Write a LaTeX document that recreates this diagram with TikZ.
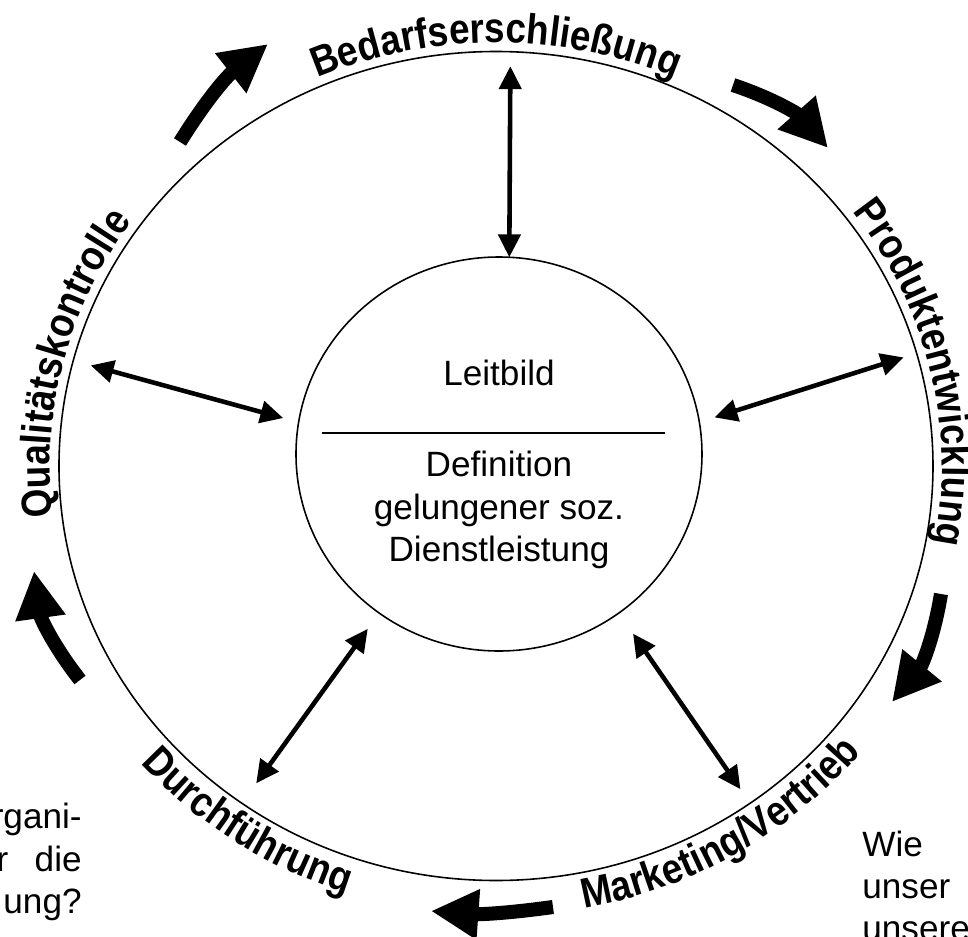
\documentclass[tikz,border=0pt]{standalone}
\usepackage{fontspec}
\setmainfont{Liberation Sans}
\newfontfamily\bogenschrift[FakeStretch=0.875]{Liberation Sans}
\usetikzlibrary{arrows.meta,shapes.geometric,decorations.text}

\tikzset{
	kreis/.style={draw, ellipse, line width=0.9pt, inner sep=0pt, outer sep=0pt},
	schrift/.style={font=\fontsize{20pt}{24pt}\selectfont, inner sep=0pt},
	pfeil/.style={{Triangle[length=13pt,width=12.5pt]}-{Triangle[length=13pt,width=12.5pt]}, line width=2.6pt},
	blockpfeil/.style={-{Triangle[length=27pt,width=27pt]}, line width=8pt},
	bogen/.style={decorate, decoration={text along path, text align=center,
		text={|\bogenschrift\bfseries\fontsize{24pt}{28pt}\selectfont|#1}}}
}

\begin{document}
\begin{tikzpicture}[x=0.2mm, y=0.2mm]
\useasboundingbox (-496,-470) rectangle (472,466);

\node[kreis, minimum width=17.48cm, minimum height=16.58cm] (zyklus) at (0,0) {};
\node[kreis, minimum width=8.12cm, minimum height=7.88cm] (leitbild) at (3,12) {};
\node[schrift, anchor=base] (titel) at (3,81) {Leitbild};
\draw[line width=0.9pt] (-174,33) -- (169,33);
\node[schrift, align=center] (definition) at (3,-44) {Definition\\gelungener soz.\\Dienstleistung};

\path[bogen=Bedarfserschließung] (130:446 and 423.5) arc[start angle=130, end angle=50, x radius=446, y radius=423.5];
\path[bogen=Produktentwicklung] (53:446 and 423.5) arc[start angle=53, end angle=-27, x radius=446, y radius=423.5];
\path[bogen=Qualitätskontrolle] (206:446 and 423.5) arc[start angle=206, end angle=126, x radius=446, y radius=423.5];
\path[bogen=Marketing/Vertrieb] (-99:473 and 450.5) arc[start angle=-99, end angle=-19, x radius=473, y radius=450.5];
\path[bogen=Durchführung] (-164:473 and 450.5) arc[start angle=-164, end angle=-84, x radius=473, y radius=450.5];

\draw[pfeil, shorten >=0.29cm] (leitbild.87) -- (zyklus.88);
\draw[pfeil, shorten <=0.32cm, shorten >=0.36cm] (leitbild.171) -- (zyklus.166);
\draw[pfeil, shorten <=0.32cm, shorten >=0.27cm] (leitbild.9) -- (zyklus.15);
\draw[pfeil, shorten <=0.39cm, shorten >=0.49cm] (leitbild.233) -- (zyklus.233);
\draw[pfeil, shorten <=0.5cm, shorten >=0.34cm] (leitbild.307) -- (zyklus.307);

\draw[blockpfeil] (-316,324) to[bend left=10] (-228,422);
\draw[blockpfeil] (237,381) to[bend left=15] (332,318);
\draw[blockpfeil] (445,-128) to[bend left=15] (396,-236);
\draw[blockpfeil] (57,-441) to[bend left=6] (-65,-445);
\draw[blockpfeil] (-416,-214) to[bend left=15] (-462,-105);

\node[schrift, align=right, anchor=east] (links) at (-414,-396) {rgani-\\r\hspace{15pt}die\\ung?};
\node[schrift, align=left, anchor=west] (rechts) at (366,-420) {Wie\\unser\\unsere};
\end{tikzpicture}
\end{document}
